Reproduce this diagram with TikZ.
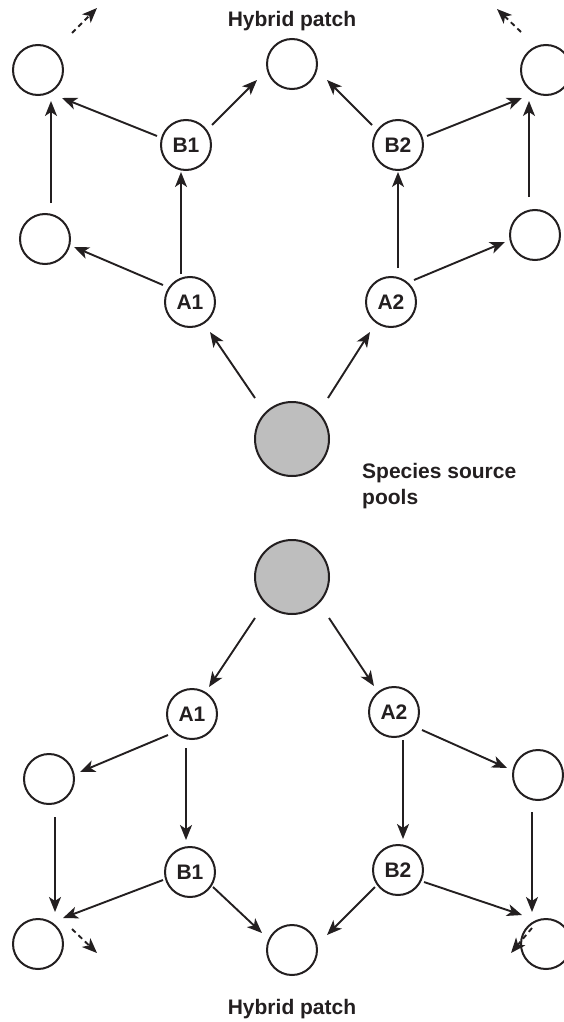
\documentclass[tikz,border=0pt]{standalone}
\usepackage{fontspec}
\setmainfont{Liberation Sans}
\usetikzlibrary{arrows.meta}
\definecolor{ink}{HTML}{231F20}
\definecolor{poolgrey}{HTML}{BEBEBE}
\begin{document}
\begin{tikzpicture}[x=1pt,y=-1pt,
  patch/.style={circle, draw=ink, line width=2pt, minimum size=50pt, inner sep=0pt, text=ink,
    font=\fontsize{21}{24}\selectfont\bfseries},
  pool/.style={circle, draw=ink, line width=2pt, minimum size=74pt, inner sep=0pt, fill=poolgrey},
  arr/.style={draw=ink, line width=1.9pt, -{Stealth[length=15pt,width=12pt,inset=4pt]}},
  darr/.style={arr, dash pattern=on 5pt off 4pt},
  lbl/.style={font=\fontsize{21}{26}\selectfont\bfseries, text=ink, inner sep=0pt}]
\useasboundingbox (0,0) rectangle (564,1022);
\clip (0,0) rectangle (564,1022);
% ---------- top half ----------
\node[patch] (tl) at (38,70) {};
\node[patch] (tc) at (292,64) {};
\node[patch] (tr) at (546,70) {};
\node[patch] (b1) at (186,145) {B1};
\node[patch] (b2) at (398,145) {B2};
\node[patch] (lm) at (45,239) {};
\node[patch] (rm) at (535,235) {};
\node[patch] (a1) at (190,302) {A1};
\node[patch] (a2) at (391,302) {A2};
\node[pool] (g1) at (292,439) {};
\coordinate (tlx) at (97,8);
\coordinate (trx) at (497,9);
\draw[arr] ([shift={(-37,-41)}]g1.center) -- ([shift={(20,30)}]a1.center);
\draw[arr] ([shift={(36,-41)}]g1.center) -- ([shift={(-21,30)}]a2.center);
\draw[arr] ([shift={(-9,-28)}]a1.center) -- ([shift={(-5,27)}]b1.center);
\draw[arr] ([shift={(-27,-17)}]a1.center) -- ([shift={(29,8)}]lm.center);
\draw[arr] ([shift={(6,-36)}]lm.center) -- ([shift={(13,31)}]tl.center);
\draw[arr] ([shift={(-29,-9)}]b1.center) -- ([shift={(24,28)}]tl.center);
\draw[arr] ([shift={(26,-20)}]b1.center) -- ([shift={(-35,16)}]tc.center);
\draw[arr] ([shift={(-26,-20)}]b2.center) -- ([shift={(35,16)}]tc.center);
\draw[arr] ([shift={(29,-9)}]b2.center) -- ([shift={(-24,28)}]tr.center);
\draw[arr] ([shift={(7,-34)}]a2.center) -- ([shift={(0,27)}]b2.center);
\draw[arr] ([shift={(23,-22)}]a2.center) -- ([shift={(-30,7)}]rm.center);
\draw[arr] ([shift={(-6,-38)}]rm.center) -- ([shift={(-17,31)}]tr.center);
\draw[darr] ([shift={(34,-37)}]tl.center) -- (tlx);
\draw[darr] ([shift={(-25,-38)}]tr.center) -- (trx);
% ---------- bottom half ----------
\node[pool] (g2) at (292,577) {};
\node[patch] (a1b) at (192,714) {A1};
\node[patch] (a2b) at (394,712) {A2};
\node[patch] (lmb) at (49,779) {};
\node[patch] (rmb) at (538,775) {};
\node[patch] (b1b) at (190,872) {B1};
\node[patch] (b2b) at (398,870) {B2};
\node[patch] (bl) at (38,944) {};
\node[patch] (bc) at (292,950) {};
\node[patch] (br) at (546,944) {};
\coordinate (blx) at (97,953);
\coordinate (brx) at (511,953);
\draw[arr] ([shift={(-37,41)}]g2.center) -- ([shift={(17,-27)}]a1b.center);
\draw[arr] ([shift={(37,41)}]g2.center) -- ([shift={(-20,-26)}]a2b.center);
\draw[arr] ([shift={(-24,21)}]a1b.center) -- ([shift={(31,-7)}]lmb.center);
\draw[arr] ([shift={(-6,34)}]a1b.center) -- ([shift={(-4,-32)}]b1b.center);
\draw[arr] ([shift={(6,38)}]lmb.center) -- ([shift={(17,-32)}]bl.center);
\draw[arr] ([shift={(-27,8)}]b1b.center) -- ([shift={(25,-26)}]bl.center);
\draw[arr] ([shift={(23,15)}]b1b.center) -- ([shift={(-30,-17)}]bc.center);
\draw[arr] ([shift={(-23,17)}]b2b.center) -- ([shift={(35,-15)}]bc.center);
\draw[arr] ([shift={(26,12)}]b2b.center) -- ([shift={(-24,-29)}]br.center);
\draw[arr] ([shift={(9,28)}]a2b.center) -- ([shift={(5,-31)}]b2b.center);
\draw[arr] ([shift={(28,18)}]a2b.center) -- ([shift={(-31,-7)}]rmb.center);
\draw[arr] ([shift={(-6,37)}]rmb.center) -- ([shift={(-14,-32)}]br.center);
\draw[darr] ([shift={(34,-15)}]bl.center) -- (blx);
\draw[darr] ([shift={(-14,-16)}]br.center) -- (brx);
% ---------- labels ----------
\node[lbl, anchor=base] (hp1) at (292,27) {Hybrid patch};
\node[lbl, anchor=base] (hp2) at (292,1014) {Hybrid patch};
\node[lbl, anchor=north west, align=left] (ssp) at (362,463) {Species source\\pools};
\end{tikzpicture}
\end{document}
